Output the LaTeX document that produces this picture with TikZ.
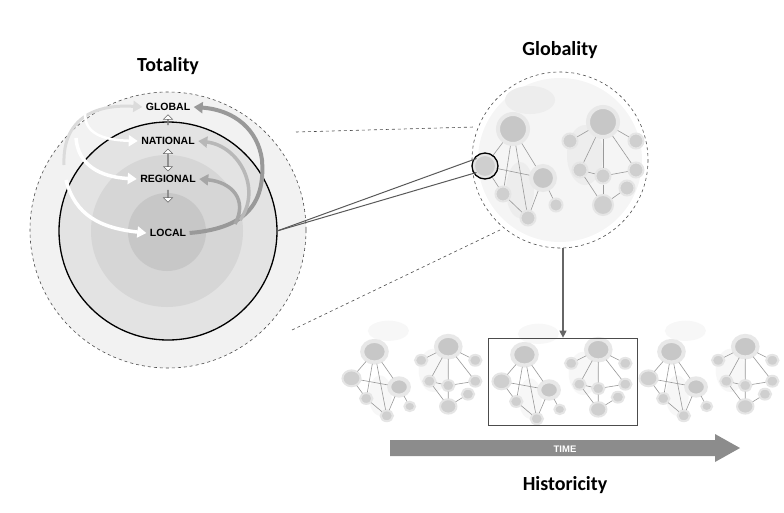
\documentclass[tikz,border=0pt]{standalone}
\usepackage{fontspec}
\setmainfont{Liberation Sans}
\newfontfamily\titlefont{Carlito}
\usetikzlibrary{shapes.arrows,arrows.meta,positioning}

\tikzset{
  title/.style={font=\titlefont\bfseries\fontsize{20}{20}\selectfont},
  level/.style={font=\bfseries\fontsize{10.5}{11}\selectfont},
  hub/.style={circle,fill=black!22,draw=black!9,line width=4pt,minimum size=#1,inner sep=0pt,transform shape},
  hub/.default=30pt,
  leaf/.style={circle,fill=black!19,draw=black!10,line width=2pt,minimum size=#1,inner sep=0pt,transform shape},
  leaf/.default=15pt,
  link/.style={draw=black!40,line width=0.6pt},
  hollow/.style={draw=black!60,fill=white,line width=0.5pt,inner sep=0pt,minimum width=9pt,single arrow head extend=2.5pt},
  inflow/.style={white,line width=3.5pt,-{Triangle[length=9pt,width=11pt]}},
  outflow/.style={black!35,line width=3.5pt,-{Triangle[length=9pt,width=11pt]}},
  pics/world/.style n args={2}{code={
    \fill[#1] (0,0) ellipse (82 and 82);
    \fill[#2] (-30,-60) ellipse (25 and 14);
    \fill[#2] (-40,30) ellipse (14 and 28);
    \fill[#2] (25,-5) ellipse (18 and 30);
    % west cluster
    \node[hub] (-h) at (-47,-31) {};
    \node[leaf=22pt] (-a) at (-75,6) {};
    \node[hub=24pt] (-b) at (-17,18) {};
    \node[leaf] (-c) at (-57,34) {};
    \node[leaf] (-d) at (-32,58) {};
    \node[leaf=13pt] (-e) at (-4,45) {};
    \foreach \u/\v in {h/a,h/c,h/d,h/b,a/b,a/c,c/d,d/b,b/e}
      \draw[link] (-\u) -- (-\v);
    % east cluster
    \node[hub] (-H) at (43,-38) {};
    \node[leaf] (-p) at (10,-19) {};
    \node[leaf] (-q) at (76,-19) {};
    \node[leaf] (-r) at (20,10) {};
    \node[leaf] (-s) at (43,16) {};
    \node[leaf] (-t) at (76,10) {};
    \node[leaf] (-u) at (67,28) {};
    \node[leaf=20pt] (-w) at (43,45) {};
    \foreach \u/\v in {H/p,H/q,H/r,H/s,H/t,r/s,s/t,r/w,s/w,u/w}
      \draw[link] (-\u) -- (-\v);
  }}
}

\begin{document}
\begin{tikzpicture}[x=1pt,y=-1pt]
\useasboundingbox (0,0) rectangle (784,512);

% totality
\node[title] (totality) at (168,66) {Totality};
\filldraw[fill=black!5,draw=black!70,dashed,line width=0.6pt] (168,230) circle (138);
\fill[black!11] (168,231) circle (109);
\fill[black!16] (167,231) circle (76);
\fill[black!22] (167,232) circle (39);
\draw[line width=1.3pt] (168,231) circle (109);
\coordinate (totR) at (277,231);
\coordinate (totT) at (296,132);
\coordinate (totB) at (292,330);

\node[level] (global) at (168,107) {GLOBAL};
\node[level] (national) at (168,141) {NATIONAL};
\node[level] (regional) at (168,179) {REGIONAL};
\node[level] (local) at (168,233) {LOCAL};

\node[hollow,single arrow,shape border rotate=90,minimum height=10pt] at (168,120) {};
\node[hollow,double arrow,shape border rotate=90,minimum height=22pt,double arrow head extend=2.5pt] at (168,160) {};
\node[hollow,single arrow,shape border rotate=270,minimum height=12pt] at (168,196) {};

% flows
\draw[black!14,line width=3pt,-{Triangle[length=9pt,width=11pt]}] (64,165) .. controls (62,115) and (100,104) .. (global.west);
\draw[white,line width=2.5pt,-{Triangle[length=9pt,width=11pt]}] (85,114) .. controls (85,132) and (100,140) .. (national.west);
\draw[inflow] (76,138) .. controls (78,165) and (100,177) .. (regional.west);
\draw[inflow] (66,180) .. controls (75,215) and (100,228) .. (local.west);
\draw[outflow,black!40,line width=4pt] (local.east) .. controls (250,228) and (265,200) .. (262,160) .. controls (258,130) and (235,110) .. (global.east);
\draw[outflow,black!28] (240,220) .. controls (262,190) and (240,146) .. (national.east);
\draw[outflow] (235,224) .. controls (248,200) and (232,182) .. (regional.east);

% globality
\node[title] (globality) at (560,50) {Globality};
\pic (globe) at (560,160) {world={black!4}{black!7}};
\draw[black!70,dashed,line width=0.6pt] (560,160) circle (88);
\draw[line width=1.3pt] (globe-a) circle (13);
\coordinate (globeT) at (474,127);
\coordinate (globeB) at (500,230);
\coordinate (globeS) at (563,248);
\draw[black!70,dashed,line width=0.6pt] (totT) -- (globeT);
\draw[black!70,dashed,line width=0.6pt] (totB) -- (globeB);
\draw[black!65,line width=1pt] (totR) -- ([yshift=-1pt]globe-a.north west);
\draw[black!65,line width=1pt] (totR) -- ([yshift=2pt]globe-a.south west);

% historicity
\pic[xscale=0.82,yscale=0.72] (past) at (413,374) {world={white}{black!3}};
\pic[xscale=0.82,yscale=0.72] (now) at (563,377) {world={white}{black!3}};
\pic[xscale=0.82,yscale=0.72] (next) at (710,374) {world={white}{black!3}};
\node[draw=black!70,line width=0.7pt,minimum width=149pt,minimum height=87pt] (frame) at (563,381.5) {};
\draw[black!60,line width=1.2pt,-{Triangle[length=7pt,width=7pt]}] (globeS) -- (frame.north);
\coordinate (tstart) at (390,448);
\fill[black!45] (tstart) ++(0,-8) -- ++(325,0) -- ++(0,-6) -- (740,448) -- (715,462) -- ++(0,-6) -- (390,456) -- cycle;
\node[font=\bfseries\fontsize{9.5}{10}\selectfont,text=white] (timelabel) at (565,449) {TIME};
\node[title] (historicity) at (565,485) {Historicity};
\end{tikzpicture}
\end{document}
